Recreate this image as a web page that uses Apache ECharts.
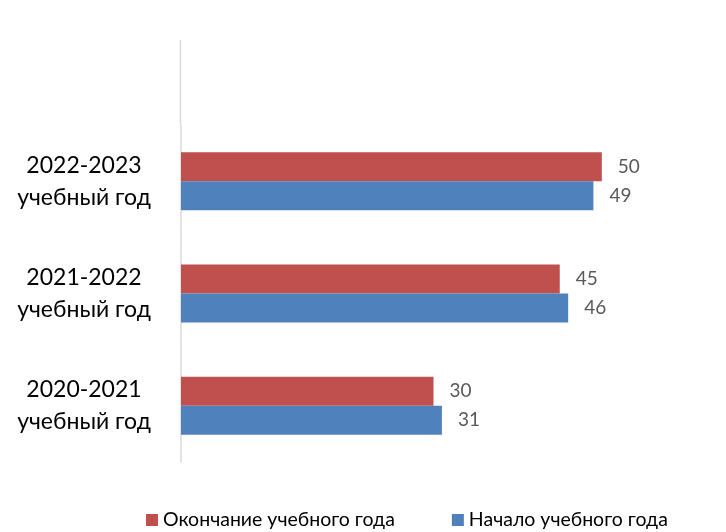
<!DOCTYPE html>
<html><head><meta charset="utf-8">
<script src="https://cdn.jsdelivr.net/npm/echarts@6/dist/echarts.min.js"></script>
<style>html,body{margin:0;padding:0;background:#fff}#c{width:726px;height:532px}</style>
</head><body><div id="c"></div>
<script>
const categories = ['2020-2021 учебный год', '2021-2022 учебный год', '2022-2023 учебный год'];
const seriesStart = [31, 46, 49];   // Начало учебного года
const seriesEnd = [30, 45, 50];     // Окончание учебного года
const nameStart = 'Начало учебного года';
const nameEnd = 'Окончание учебного года';

const chart = echarts.init(document.getElementById('c'));
const font = 'Lato, "Open Sans", sans-serif';
const lbl = {show: true, position: 'right', distance: 16, color: '#595959', fontSize: 19, fontFamily: font};
chart.setOption({
  animation: false,
  textStyle: {fontFamily: font},
  grid: {left: 181, top: 125, bottom: 70, right: 40},
  xAxis: {type: 'value', min: 0, max: 60, show: false},
  yAxis: {
    type: 'category', data: categories,
    axisLine: {show: true, lineStyle: {color: '#d9d9d9', width: 1.5}},
    axisTick: {show: false},
    axisLabel: {
      formatter: v => v.replace(' ', '\n'),
      fontSize: 23, lineHeight: 32, color: '#000', margin: 97, align: 'center'
    }
  },
  legend: {
    bottom: -3, left: 141, itemWidth: 12, itemHeight: 12, itemGap: 57,
    icon: 'rect',
    data: [nameEnd, nameStart],
    textStyle: {fontSize: 19.5, color: '#000', fontFamily: font, padding: [0, 0, 0, 0]}
  },
  graphic: [],
  series: [
    {name: nameEnd, type: 'bar', data: seriesEnd, barWidth: 29, barGap: '0%',
     itemStyle: {color: '#C0504D'}, label: lbl},
    {name: nameStart, type: 'bar', data: seriesStart, barWidth: 29, barGap: '0%',
     itemStyle: {color: '#4F81BD'}, label: lbl}
  ]
});
// extend the axis line above the plot like the original
const x0 = chart.convertToPixel({xAxisIndex: 0}, 0);
chart.setOption({graphic: [{type: 'line', shape: {x1: x0 - 0.5, y1: 40, x2: x0 - 0.5, y2: 125},
  style: {stroke: '#d9d9d9', lineWidth: 1.5}}]});
</script></body></html>
